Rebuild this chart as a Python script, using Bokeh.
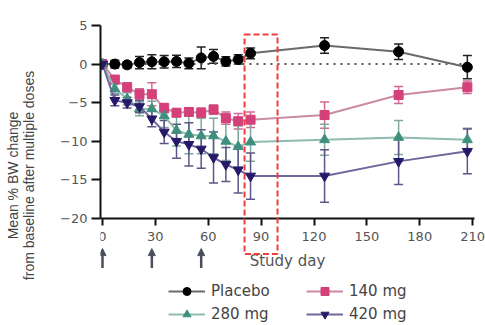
from bokeh.plotting import figure
from bokeh.models import (ColumnDataSource, Whisker, TeeHead, BoxAnnotation,
                          Arrow, NormalHead, Legend, LegendItem, Range1d, FixedTicker)
from bokeh.embed import file_html
from bokeh.resources import INLINE

# ---- data ----
days = [0, 7, 14, 21, 28, 35, 42, 49, 56, 63, 70, 77, 84, 126, 168, 207]

placebo_mean = [0, 0.0, -0.1, 0.2, 0.3, 0.3, 0.35, 0.1, 0.8, 1.0, 0.35, 0.6, 1.4, 2.4, 1.6, -0.4]
placebo_err = [0, 0.5, 0.4, 0.8, 0.9, 0.8, 0.8, 0.7, 1.4, 0.9, 0.6, 0.6, 0.7, 1.0, 1.0, 1.5]

mg140_mean = [0, -2.0, -3.0, -3.9, -3.9, -5.7, -6.3, -6.2, -6.3, -5.9, -7.0, -7.4, -7.2, -6.6, -4.0, -3.0]
mg140_err = [0, 0.5, 0.6, 0.7, 1.5, 0.6, 0.5, 0.5, 0.6, 0.6, 0.8, 1.0, 1.0, 1.7, 1.1, 0.8]

mg280_mean = [0, -3.2, -4.5, -5.8, -5.8, -6.7, -8.6, -9.1, -9.3, -9.3, -10.0, -10.7, -10.1, -9.8, -9.5, -9.8]
mg280_err = [0, 0.6, 0.8, 0.9, 1.0, 1.5, 2.0, 2.5, 2.3, 2.3, 2.5, 2.7, 2.5, 2.0, 2.2, 1.5]

mg420_mean = [0, -4.7, -5.0, -5.5, -7.1, -8.8, -10.0, -10.4, -11.0, -12.1, -13.0, -13.7, -14.5, -14.5, -12.6, -11.3]
mg420_err = [0, 0.7, 0.7, 0.8, 1.0, 1.5, 2.2, 2.8, 2.5, 3.3, 2.2, 3.0, 3.0, 3.4, 3.0, 2.9]

dose_days = [0, 28, 56]
highlight_days = [80.6, 99.3]
highlight_vals = [3.83, -24.6]

x_ticks = [0, 30, 60, 90, 120, 150, 180, 210]
y_ticks = [5, 0, -5, -10, -15, -20]
x_axis_min, x_axis_max = -1.13, 211.1
y_axis_min, y_axis_max = -20, 5

series = [
    ("Placebo", placebo_mean, placebo_err, "circle", 10, "#000000", "#6a6a6a", "#222222"),
    ("140 mg", mg140_mean, mg140_err, "square", 9, "#d4407a", "#cc8aa3", "#d06a90"),
    ("280 mg", mg280_mean, mg280_err, "triangle", 10, "#3f8f7f", "#8fbcb1", "#7fa89e"),
    ("420 mg", mg420_mean, mg420_err, "inverted_triangle", 10, "#26196a", "#6e679b", "#5d5787"),
]

# frame spans the whole lower/right area so the marks outside the axes are not clipped
p = figure(width=485, height=325, output_backend="svg", toolbar_location=None,
           x_range=Range1d(x_axis_min, 217.3), y_range=Range1d(-33.86, y_axis_max),
           min_border_left=100, min_border_right=0, min_border_top=25, min_border_bottom=0)
p.outline_line_color = None
p.xgrid.visible = False
p.ygrid.visible = False
p.background_fill_color = "white"

tick_font = "DejaVu Sans"
for ax in (p.xaxis[0], p.yaxis[0]):
    ax.axis_line_color = "#111111"
    ax.axis_line_width = 2
    ax.major_tick_line_color = "#111111"
    ax.major_tick_line_width = 2
    ax.major_tick_in = 0
    ax.minor_tick_line_color = None
    ax.major_label_text_font = tick_font
    ax.major_label_text_font_size = "13px"
    ax.major_label_text_color = "#555555"

p.xaxis.fixed_location = y_axis_min
p.xaxis.bounds = (x_axis_min, x_axis_max)
p.yaxis.bounds = (y_axis_min, y_axis_max)
p.xaxis.ticker = FixedTicker(ticks=x_ticks)
p.yaxis.ticker = FixedTicker(ticks=y_ticks)
p.xaxis.major_tick_out = 7
p.yaxis.major_tick_out = 9
p.xaxis.major_label_standoff = 6
p.yaxis.major_label_standoff = 4
p.xaxis.axis_label = "Study day"
p.xaxis.axis_label_text_font = tick_font
p.xaxis.axis_label_text_font_size = "15px"
p.xaxis.axis_label_text_font_style = "normal"
p.xaxis.axis_label_text_color = "#555555"
p.xaxis.axis_label_standoff = 8
p.yaxis.axis_label = "Mean % BW change\nfrom baseline after multiple doses"
p.yaxis.axis_label_text_font = "Liberation Sans"
p.yaxis.axis_label_text_font_size = "14px"
p.yaxis.axis_label_text_font_style = "normal"
p.yaxis.axis_label_text_color = "#444444"
p.yaxis.axis_label_text_line_height = 1.0
p.yaxis.axis_label_standoff = 20

# dotted zero reference line across the study period
p.segment(x0=[x_ticks[0]], x1=[x_ticks[-1]], y0=[0], y1=[0],
          line_color="#555555", line_width=2, line_dash="2 5")

items = []
for name, mean, err, marker, size, mcol, lcol, ecol in series:
    src = ColumnDataSource(dict(x=days, y=mean,
                                upper=[m + e for m, e in zip(mean, err)],
                                lower=[m - e for m, e in zip(mean, err)]))
    p.add_layout(Whisker(source=src, base="x", upper="upper", lower="lower",
                         line_color=ecol, line_width=1.5,
                         upper_head=TeeHead(size=9, line_color=ecol, line_width=1.5),
                         lower_head=TeeHead(size=9, line_color=ecol, line_width=1.5)))
    ln = p.line("x", "y", source=src, line_color=lcol, line_width=2)
    sc = p.scatter("x", "y", source=src, marker=marker, size=size,
                   fill_color=mcol, line_color=mcol)
    items.append(LegendItem(label=name, renderers=[ln, sc]))

# dashed highlight box
p.add_layout(BoxAnnotation(left=highlight_days[0], right=highlight_days[1],
                           top=highlight_vals[0], bottom=highlight_vals[1],
                           fill_alpha=0, line_color="#f03c3c", line_alpha=1.0,
                           line_width=2, line_dash="6 3", level="overlay"))

# dosing arrows below the axis
for d in dose_days:
    p.add_layout(Arrow(x_start=d, x_end=d, y_start=-26.4, y_end=-23.9,
                       line_color="#4a4f5c", line_width=2.5,
                       end=NormalHead(size=7, fill_color="#4a4f5c", line_color="#4a4f5c")))

legend = Legend(items=items, location=(68, 1), orientation="horizontal", ncols=2,
                glyph_width=37, glyph_height=20, label_standoff=6, label_width=92,
                label_height=20, spacing=3, padding=0, margin=0,
                border_line_color=None, background_fill_alpha=0,
                label_text_font=tick_font, label_text_font_size="15px",
                label_text_color="#444444")
p.add_layout(legend)

open("out.html", "w").write(file_html(p, INLINE))
